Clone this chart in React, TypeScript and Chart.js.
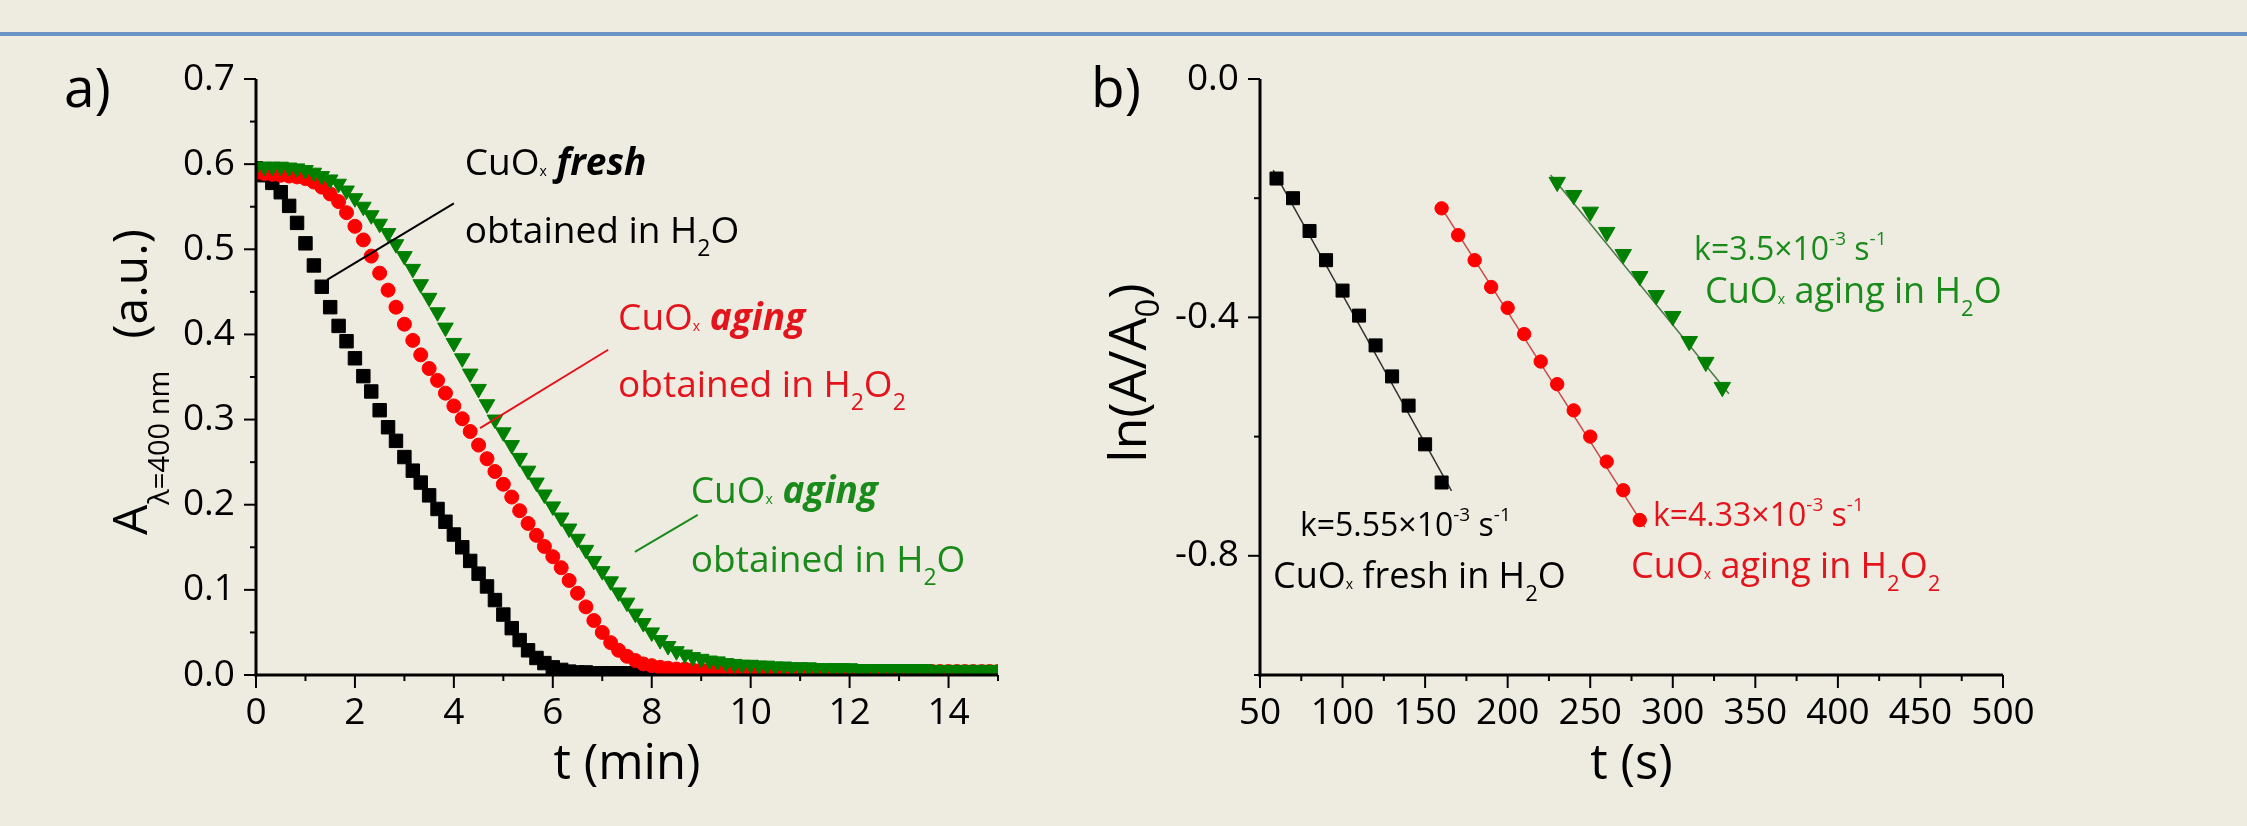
import React, { useEffect, useRef } from 'react';
import { Chart, registerables } from 'chart.js';

Chart.register(...registerables);

const FONT = '"Open Sans", "DejaVu Sans", sans-serif';
const BG = '#EEECE1';
const BLUE_RULE = '#6C93C6';
const BLACK = '#000000';
const RED = '#FF0000';
const GREEN = '#007F00';
const RED_TEXT = '#E3141C';
const GREEN_TEXT = '#1A8A1A';

// ---------- Panel a: absorbance vs time (min) ----------
const timeMin = [
  0, 0.17, 0.33, 0.5, 0.67, 0.83,
  1, 1.17, 1.33, 1.5, 1.67, 1.83,
  2, 2.17, 2.33, 2.5, 2.67, 2.83,
  3, 3.17, 3.33, 3.5, 3.67, 3.83,
  4, 4.17, 4.33, 4.5, 4.67, 4.83,
  5, 5.17, 5.33, 5.5, 5.67, 5.83,
  6, 6.17, 6.33, 6.5, 6.67, 6.83,
  7, 7.17, 7.33, 7.5, 7.67, 7.83,
  8, 8.17, 8.33, 8.5, 8.67, 8.83,
  9, 9.17, 9.33, 9.5, 9.67, 9.83,
  10, 10.17, 10.33, 10.5, 10.67, 10.83,
  11, 11.17, 11.33, 11.5, 11.67, 11.83,
  12, 12.17, 12.33, 12.5, 12.67, 12.83,
  13, 13.17, 13.33, 13.5, 13.67, 13.83,
  14, 14.17, 14.33, 14.5, 14.67, 14.83,
  15,
];

const freshH2O = [
  0.595, 0.587, 0.578, 0.567, 0.551, 0.531,
  0.507, 0.481, 0.456, 0.432, 0.410, 0.392,
  0.372, 0.351, 0.333, 0.311, 0.291, 0.275,
  0.256, 0.240, 0.226, 0.211, 0.195, 0.180,
  0.165, 0.150, 0.134, 0.119, 0.104, 0.088,
  0.071, 0.055, 0.041, 0.029, 0.020, 0.014,
  0.009, 0.006, 0.004, 0.003, 0.003, 0.002,
  0.002, 0.002, 0.002, 0.002, 0.002, 0.002,
  0.002, 0.001, 0.001, 0.001, 0.001, 0.001,
  0.001, 0.001, 0.001, 0.001, 0.001, 0.001,
  0.001, 0.001, 0.001, 0.001, 0.001, 0.001,
  0.001, 0.001, 0.001, 0.001, 0.001, 0.001,
  0.001, 0.001, 0.001, 0.001, 0.001, 0.001,
  0.001, 0.001, 0.001, 0.001, 0.001, 0.001,
  0.001, 0.001, 0.001, 0.001, 0.001, 0.001,
  0.001,
];

const agingH2O2 = [
  0.590, 0.589, 0.588, 0.587, 0.586, 0.585,
  0.583, 0.579, 0.573, 0.565, 0.556, 0.543,
  0.527, 0.511, 0.492, 0.472, 0.452, 0.432,
  0.412, 0.393, 0.376, 0.360, 0.346, 0.331,
  0.316, 0.301, 0.286, 0.270, 0.254, 0.239,
  0.224, 0.209, 0.193, 0.178, 0.164, 0.151,
  0.139, 0.126, 0.111, 0.096, 0.080, 0.064,
  0.050, 0.038, 0.029, 0.022, 0.017, 0.013,
  0.011, 0.009, 0.008, 0.007, 0.007, 0.006,
  0.006, 0.006, 0.005, 0.005, 0.005, 0.005,
  0.005, 0.005, 0.005, 0.005, 0.005, 0.005,
  0.005, 0.004, 0.004, 0.004, 0.004, 0.004,
  0.004, 0.004, 0.004, 0.004, 0.004, 0.004,
  0.004, 0.004, 0.004, 0.004, 0.004, 0.004,
  0.004, 0.004, 0.004, 0.004, 0.004, 0.004,
  0.004,
];

const agingH2O = [
  0.597, 0.597, 0.597, 0.597, 0.596, 0.595,
  0.593, 0.590, 0.586, 0.582, 0.577, 0.569,
  0.560, 0.550, 0.540, 0.530, 0.519, 0.506,
  0.492, 0.477, 0.459, 0.443, 0.426, 0.408,
  0.390, 0.372, 0.354, 0.336, 0.318, 0.300,
  0.285, 0.270, 0.255, 0.240, 0.226, 0.212,
  0.198, 0.185, 0.172, 0.160, 0.147, 0.134,
  0.122, 0.110, 0.097, 0.085, 0.072, 0.061,
  0.050, 0.041, 0.034, 0.028, 0.024, 0.021,
  0.019, 0.017, 0.016, 0.014, 0.013, 0.012,
  0.012, 0.011, 0.011, 0.010, 0.010, 0.009,
  0.009, 0.009, 0.008, 0.008, 0.008, 0.008,
  0.008, 0.007, 0.007, 0.007, 0.007, 0.007,
  0.007, 0.007, 0.007, 0.007, 0.006, 0.006,
  0.006, 0.006, 0.006, 0.006, 0.006, 0.006,
  0.006,
];

const aXTicks = [0, 2, 4, 6, 8, 10, 12, 14];
const aXTickLabels = ['0', '2', '4', '6', '8', '10', '12', '14'];
const aXMinor = [1, 3, 5, 7, 9, 11, 13, 15];
const aYTicks = [0, 0.1, 0.2, 0.3, 0.4, 0.5, 0.6, 0.7];
const aYTickLabels = ['0.0', '0.1', '0.2', '0.3', '0.4', '0.5', '0.6', '0.7'];
const aYMinor = [0.05, 0.15, 0.25, 0.35, 0.45, 0.55, 0.65];

// ---------- Panel b: ln(A/A0) vs time (s) ----------
const bTimeFresh = [60, 70, 80, 90, 100, 110, 120, 130, 140, 150, 160];
const bLnFresh = [-0.167, -0.2, -0.255, -0.304, -0.355, -0.397, -0.447, -0.499, -0.548, -0.613, -0.677];
const bTimeAgingH2O2 = [160, 170, 180, 190, 200, 210, 220, 230, 240, 250, 260, 270, 280];
const bLnAgingH2O2 = [-0.217, -0.262, -0.304, -0.349, -0.384, -0.428, -0.474, -0.512, -0.556, -0.6, -0.642, -0.69, -0.74];
const bTimeAgingH2O = [230, 240, 250, 260, 270, 280, 290, 300, 310, 320, 330];
const bLnAgingH2O = [-0.173, -0.195, -0.223, -0.257, -0.294, -0.331, -0.363, -0.398, -0.44, -0.475, -0.517];

const fitFreshX = [58, 166];
const fitFreshY = [-0.153, -0.691];
const fitH2O2X = [158, 283];
const fitH2O2Y = [-0.208, -0.752];
const fitH2OX = [226, 334];
const fitH2OY = [-0.161, -0.528];

const bXTicks = [50, 100, 150, 200, 250, 300, 350, 400, 450, 500];
const bXTickLabels = ['50', '100', '150', '200', '250', '300', '350', '400', '450', '500'];
const bXMinor = [75, 125, 175, 225, 275, 325, 375, 425, 475];
const bYTicks = [-0.8, -0.4, 0];
const bYTickLabels = ['-0.8', '-0.4', '0.0'];
const bYMinor = [-1.0, -0.6, -0.2];

// ---------- text helpers ----------
type Seg = { t?: string; s?: number; dy?: number; w?: string; i?: boolean; gap?: number };

function setFont(ctx: CanvasRenderingContext2D, g: Seg) {
  ctx.font = `${g.i ? 'italic ' : ''}${g.w || 'normal'} ${g.s}px ${FONT}`;
}
function segsWidth(ctx: CanvasRenderingContext2D, segs: Seg[]) {
  let w = 0;
  for (const g of segs) {
    if (g.gap) { w += g.gap; continue; }
    setFont(ctx, g);
    w += ctx.measureText(g.t || '').width;
  }
  return w;
}
function drawSegs(ctx: CanvasRenderingContext2D, x: number, y: number, segs: Seg[], color: string) {
  let cx = x;
  ctx.fillStyle = color;
  ctx.textAlign = 'left';
  ctx.textBaseline = 'alphabetic';
  for (const g of segs) {
    if (g.gap) { cx += g.gap; continue; }
    setFont(ctx, g);
    ctx.fillText(g.t || '', cx, y + (g.dy || 0));
    cx += ctx.measureText(g.t || '').width;
  }
}

const cuox = (s: number, rest: Seg[]): Seg[] => [
  { t: 'CuO', s },
  { t: 'x', s: Math.round(s * 0.38), dy: 1 },
  ...rest,
];

// annotations (data coordinates)
const annoA = [
  { x: 4.22, y: 0.587, color: BLACK, segs: cuox(37, [{ t: ' ', s: 37 }, { t: 'fresh', s: 37, w: 'bold', i: true }]) },
  { x: 4.22, y: 0.507, color: BLACK, segs: [{ t: 'obtained in H', s: 37 }, { t: '2', s: 23, dy: 13 }, { t: 'O', s: 37 }] },
  { x: 7.32, y: 0.405, color: RED_TEXT, segs: cuox(37, [{ t: ' ', s: 37 }, { t: 'aging', s: 37, w: 'bold', i: true }]) },
  { x: 7.32, y: 0.3265, color: RED_TEXT, segs: [{ t: 'obtained in H', s: 37 }, { t: '2', s: 23, dy: 13 }, { t: 'O', s: 37 }, { t: '2', s: 23, dy: 13 }] },
  { x: 8.79, y: 0.202, color: GREEN_TEXT, segs: cuox(37, [{ t: ' ', s: 37 }, { t: 'aging', s: 37, w: 'bold', i: true }]) },
  { x: 8.79, y: 0.121, color: GREEN_TEXT, segs: [{ t: 'obtained in H', s: 37 }, { t: '2', s: 23, dy: 13 }, { t: 'O', s: 37 }] },
];
const leadersA = [
  { pts: [[1.435, 0.464], [4.0, 0.554]], color: BLACK },
  { pts: [[4.53, 0.29], [7.12, 0.382]], color: RED_TEXT },
  { pts: [[7.66, 0.1445], [8.93, 0.188]], color: GREEN_TEXT },
];
const kSegs = (k: string): Seg[] => [
  { t: `k=${k}×10`, s: 32 },
  { t: '-3', s: 19, dy: -15 },
  { t: ' s', s: 32 },
  { t: '-1', s: 19, dy: -15 },
];
const annoB = [
  { x: 74.2, y: -0.766, color: BLACK, segs: kSegs('5.55') },
  { x: 57.9, y: -0.854, color: BLACK, segs: cuox(36, [{ t: ' fresh in H', s: 36 }, { t: '2', s: 22, dy: 13 }, { t: 'O', s: 36 }]) },
  { x: 288, y: -0.75, color: RED_TEXT, segs: kSegs('4.33') },
  { x: 274.7, y: -0.837, color: RED_TEXT, segs: cuox(36, [{ t: ' aging in H', s: 36 }, { t: '2', s: 22, dy: 13 }, { t: 'O', s: 36 }, { t: '2', s: 22, dy: 13 }]) },
  { x: 312.9, y: -0.304, color: GREEN_TEXT, segs: kSegs('3.5') },
  { x: 319.5, y: -0.375, color: GREEN_TEXT, segs: cuox(36, [{ t: ' aging in H', s: 36 }, { t: '2', s: 22, dy: 13 }, { t: 'O', s: 36 }]) },
];

// ---------- decoration plugin (axes, ticks, titles, annotations) ----------
const decorPlugin = {
  id: 'decor',
  afterDraw(chart: any, _args: any, opts: any) {
    const ctx: CanvasRenderingContext2D = chart.ctx;
    const xs = chart.scales.x;
    const ys = chart.scales.y;
    const { left, right, top, bottom } = chart.chartArea;
    ctx.save();

    // leader lines
    for (const l of opts.leaders || []) {
      ctx.strokeStyle = l.color;
      ctx.lineWidth = 2;
      ctx.beginPath();
      ctx.moveTo(xs.getPixelForValue(l.pts[0][0]), ys.getPixelForValue(l.pts[0][1]));
      ctx.lineTo(xs.getPixelForValue(l.pts[1][0]), ys.getPixelForValue(l.pts[1][1]));
      ctx.stroke();
    }

    // axis lines
    ctx.strokeStyle = '#000';
    ctx.lineWidth = 3;
    ctx.beginPath();
    ctx.moveTo(left, top);
    ctx.lineTo(left, bottom + 1.5);
    ctx.stroke();
    ctx.beginPath();
    ctx.moveTo(left - 1.5, bottom);
    ctx.lineTo(right, bottom);
    ctx.stroke();

    // tick marks
    ctx.lineWidth = 2;
    const seg = (x1: number, y1: number, x2: number, y2: number) => {
      ctx.beginPath();
      ctx.moveTo(x1, y1);
      ctx.lineTo(x2, y2);
      ctx.stroke();
    };
    for (const v of opts.xMajor) { const p = xs.getPixelForValue(v); seg(p, bottom, p, bottom + 13); }
    for (const v of opts.xMinor) { const p = xs.getPixelForValue(v); seg(p, bottom, p, bottom + 6); }
    for (const v of opts.yMajor) { const p = ys.getPixelForValue(v); seg(left - 12, p, left, p); }
    for (const v of opts.yMinor) { const p = ys.getPixelForValue(v); seg(left - 6, p, left, p); }

    // x title
    const xw = segsWidth(ctx, opts.xTitle);
    drawSegs(ctx, (left + right) / 2 - xw / 2, bottom + 104, opts.xTitle, '#000');

    // y title (rotated)
    const yw = segsWidth(ctx, opts.yTitle);
    ctx.save();
    const startY = opts.yTitleStart != null ? bottom - opts.yTitleStart : (top + bottom) / 2 - 4 + yw / 2;
    ctx.translate(left - opts.yTitleOffset, startY);
    ctx.rotate(-Math.PI / 2);
    drawSegs(ctx, 0, 0, opts.yTitle, '#000');
    ctx.restore();

    // panel label
    drawSegs(ctx, left - opts.panelOffset, 107, [{ t: opts.panel, s: 55 }], '#000');

    // annotations
    for (const a of opts.annotations || []) {
      drawSegs(ctx, xs.getPixelForValue(a.x), ys.getPixelForValue(a.y), a.segs, a.color);
    }
    ctx.restore();
  },
};

const tickFont = { family: FONT, size: 37 };

function axis(min: number, max: number, values: number[], labels: string[], horizontal: boolean, size: number, padding: number) {
  return {
    type: 'linear',
    min,
    max,
    afterBuildTicks: (s: any) => { s.ticks = values.map((v) => ({ value: v })); },
    afterFit: (s: any) => { if (horizontal) s.height = size; else s.width = size; },
    ticks: {
      font: tickFont,
      color: '#000',
      padding,
      autoSkip: false,
      maxRotation: 0,
      minRotation: 0,
      callback: (_v: any, i: number) => labels[i],
    },
    grid: { display: false, drawTicks: false },
    border: { display: false },
  };
}

export default function App() {
  const refA = useRef<HTMLCanvasElement>(null);
  const refB = useRef<HTMLCanvasElement>(null);

  useEffect(() => {
    const pts = (xs: number[], ys: number[]) => xs.map((x, i) => ({ x, y: ys[i] }));

    const chartA = new Chart(refA.current as HTMLCanvasElement, {
      type: 'line',
      data: {
        datasets: [
          {
            label: 'CuOx aging obtained in H2O',
            data: pts(timeMin, agingH2O),
            showLine: false,
            pointStyle: 'triangle',
            pointRotation: 180,
            pointRadius: 9,
            pointBackgroundColor: GREEN,
            pointBorderColor: GREEN,
            pointBorderWidth: 1,
            order: 1,
            clip: 0,
          },
          {
            label: 'CuOx aging obtained in H2O2',
            data: pts(timeMin, agingH2O2),
            showLine: false,
            pointStyle: 'circle',
            pointRadius: 7,
            pointBackgroundColor: RED,
            pointBorderColor: RED,
            pointBorderWidth: 1,
            order: 2,
            clip: 0,
          },
          {
            label: 'CuOx fresh obtained in H2O',
            data: pts(timeMin, freshH2O),
            showLine: false,
            pointStyle: 'rect',
            pointRadius: 9.5,
            pointBackgroundColor: BLACK,
            pointBorderColor: BLACK,
            pointBorderWidth: 1,
            order: 3,
            clip: 0,
          },
        ],
      } as any,
      options: {
        animation: false,
        responsive: false,
        devicePixelRatio: 1,
        events: [],
        layout: { padding: { left: 0, top: 79, right: 62, bottom: 0 } },
        plugins: {
          legend: { display: false },
          tooltip: { enabled: false },
          decor: {
            xMajor: aXTicks,
            xMinor: aXMinor,
            yMajor: aYTicks,
            yMinor: aYMinor,
            xTitle: [{ t: 't (min)', s: 49 }],
            yTitle: [
              { t: 'A', s: 48 },
              { t: 'λ=400 nm', s: 29, dy: 22 },
              { gap: 32 },
              { t: '(a.u.)', s: 48 },
            ],
            yTitleOffset: 109,
            yTitleStart: 140,
            panel: 'a)',
            panelOffset: 192,
            annotations: annoA,
            leaders: leadersA,
          },
        },
        scales: {
          x: axis(0, 15, aXTicks, aXTickLabels, true, 151, 16),
          y: axis(0, 0.7, aYTicks, aYTickLabels, false, 256, 21),
        },
      } as any,
      plugins: [decorPlugin],
    });

    const lineDs = (label: string, xs: number[], ys: number[], color: string) => ({
      label,
      data: pts(xs, ys),
      showLine: true,
      borderColor: color,
      borderWidth: 1.5,
      pointRadius: 0,
      order: 10,
    });
    const markDs = (label: string, xs: number[], ys: number[], color: string, style: string, r: number, order: number) => ({
      label,
      data: pts(xs, ys),
      showLine: false,
      pointStyle: style,
      pointRotation: style === 'triangle' ? 180 : 0,
      pointRadius: r,
      pointBackgroundColor: color,
      pointBorderColor: color,
      pointBorderWidth: 1,
      order,
    });

    const chartB = new Chart(refB.current as HTMLCanvasElement, {
      type: 'line',
      data: {
        datasets: [
          markDs('CuOx fresh in H2O', bTimeFresh, bLnFresh, BLACK, 'rect', 9.2, 1),
          markDs('CuOx aging in H2O2', bTimeAgingH2O2, bLnAgingH2O2, RED, 'circle', 6.7, 2),
          markDs('CuOx aging in H2O', bTimeAgingH2O, bLnAgingH2O, GREEN, 'triangle', 9.5, 3),
          lineDs('fit fresh', fitFreshX, fitFreshY, '#333333'),
          lineDs('fit H2O2', fitH2O2X, fitH2O2Y, '#C84848'),
          lineDs('fit H2O', fitH2OX, fitH2OY, '#4A7A4A'),
        ],
      } as any,
      options: {
        animation: false,
        responsive: false,
        devicePixelRatio: 1,
        events: [],
        layout: { padding: { left: 0, top: 79, right: 244, bottom: 0 } },
        plugins: {
          legend: { display: false },
          tooltip: { enabled: false },
          decor: {
            xMajor: bXTicks,
            xMinor: bXMinor,
            yMajor: bYTicks,
            yMinor: bYMinor,
            xTitle: [{ t: 't (s)', s: 49 }],
            yTitle: [
              { t: 'ln(A/A', s: 52 },
              { t: '0', s: 33, dy: 13 },
              { t: ')', s: 52 },
            ],
            yTitleOffset: 114,
            yTitleStart: null,
            panel: 'b)',
            panelOffset: 169,
            annotations: annoB,
            leaders: [],
          },
        },
        scales: {
          x: axis(50, 500, bXTicks, bXTickLabels, true, 151, 16),
          y: axis(-1.0, 0, bYTicks, bYTickLabels, false, 200, 21),
        },
      } as any,
      plugins: [decorPlugin],
    });

    return () => {
      chartA.destroy();
      chartB.destroy();
    };
  }, []);

  return (
    <div style={{ position: 'absolute', left: 0, top: 0, width: 2247, height: 826, background: BG, overflow: 'hidden' }}>
      <div style={{ position: 'absolute', left: 0, top: 32, width: 2247, height: 4, background: BLUE_RULE }} />
      <canvas ref={refA} width={1060} height={826} style={{ position: 'absolute', left: 0, top: 0, width: 1060, height: 826 }} />
      <canvas ref={refB} width={1187} height={826} style={{ position: 'absolute', left: 1060, top: 0, width: 1187, height: 826 }} />
    </div>
  );
}
